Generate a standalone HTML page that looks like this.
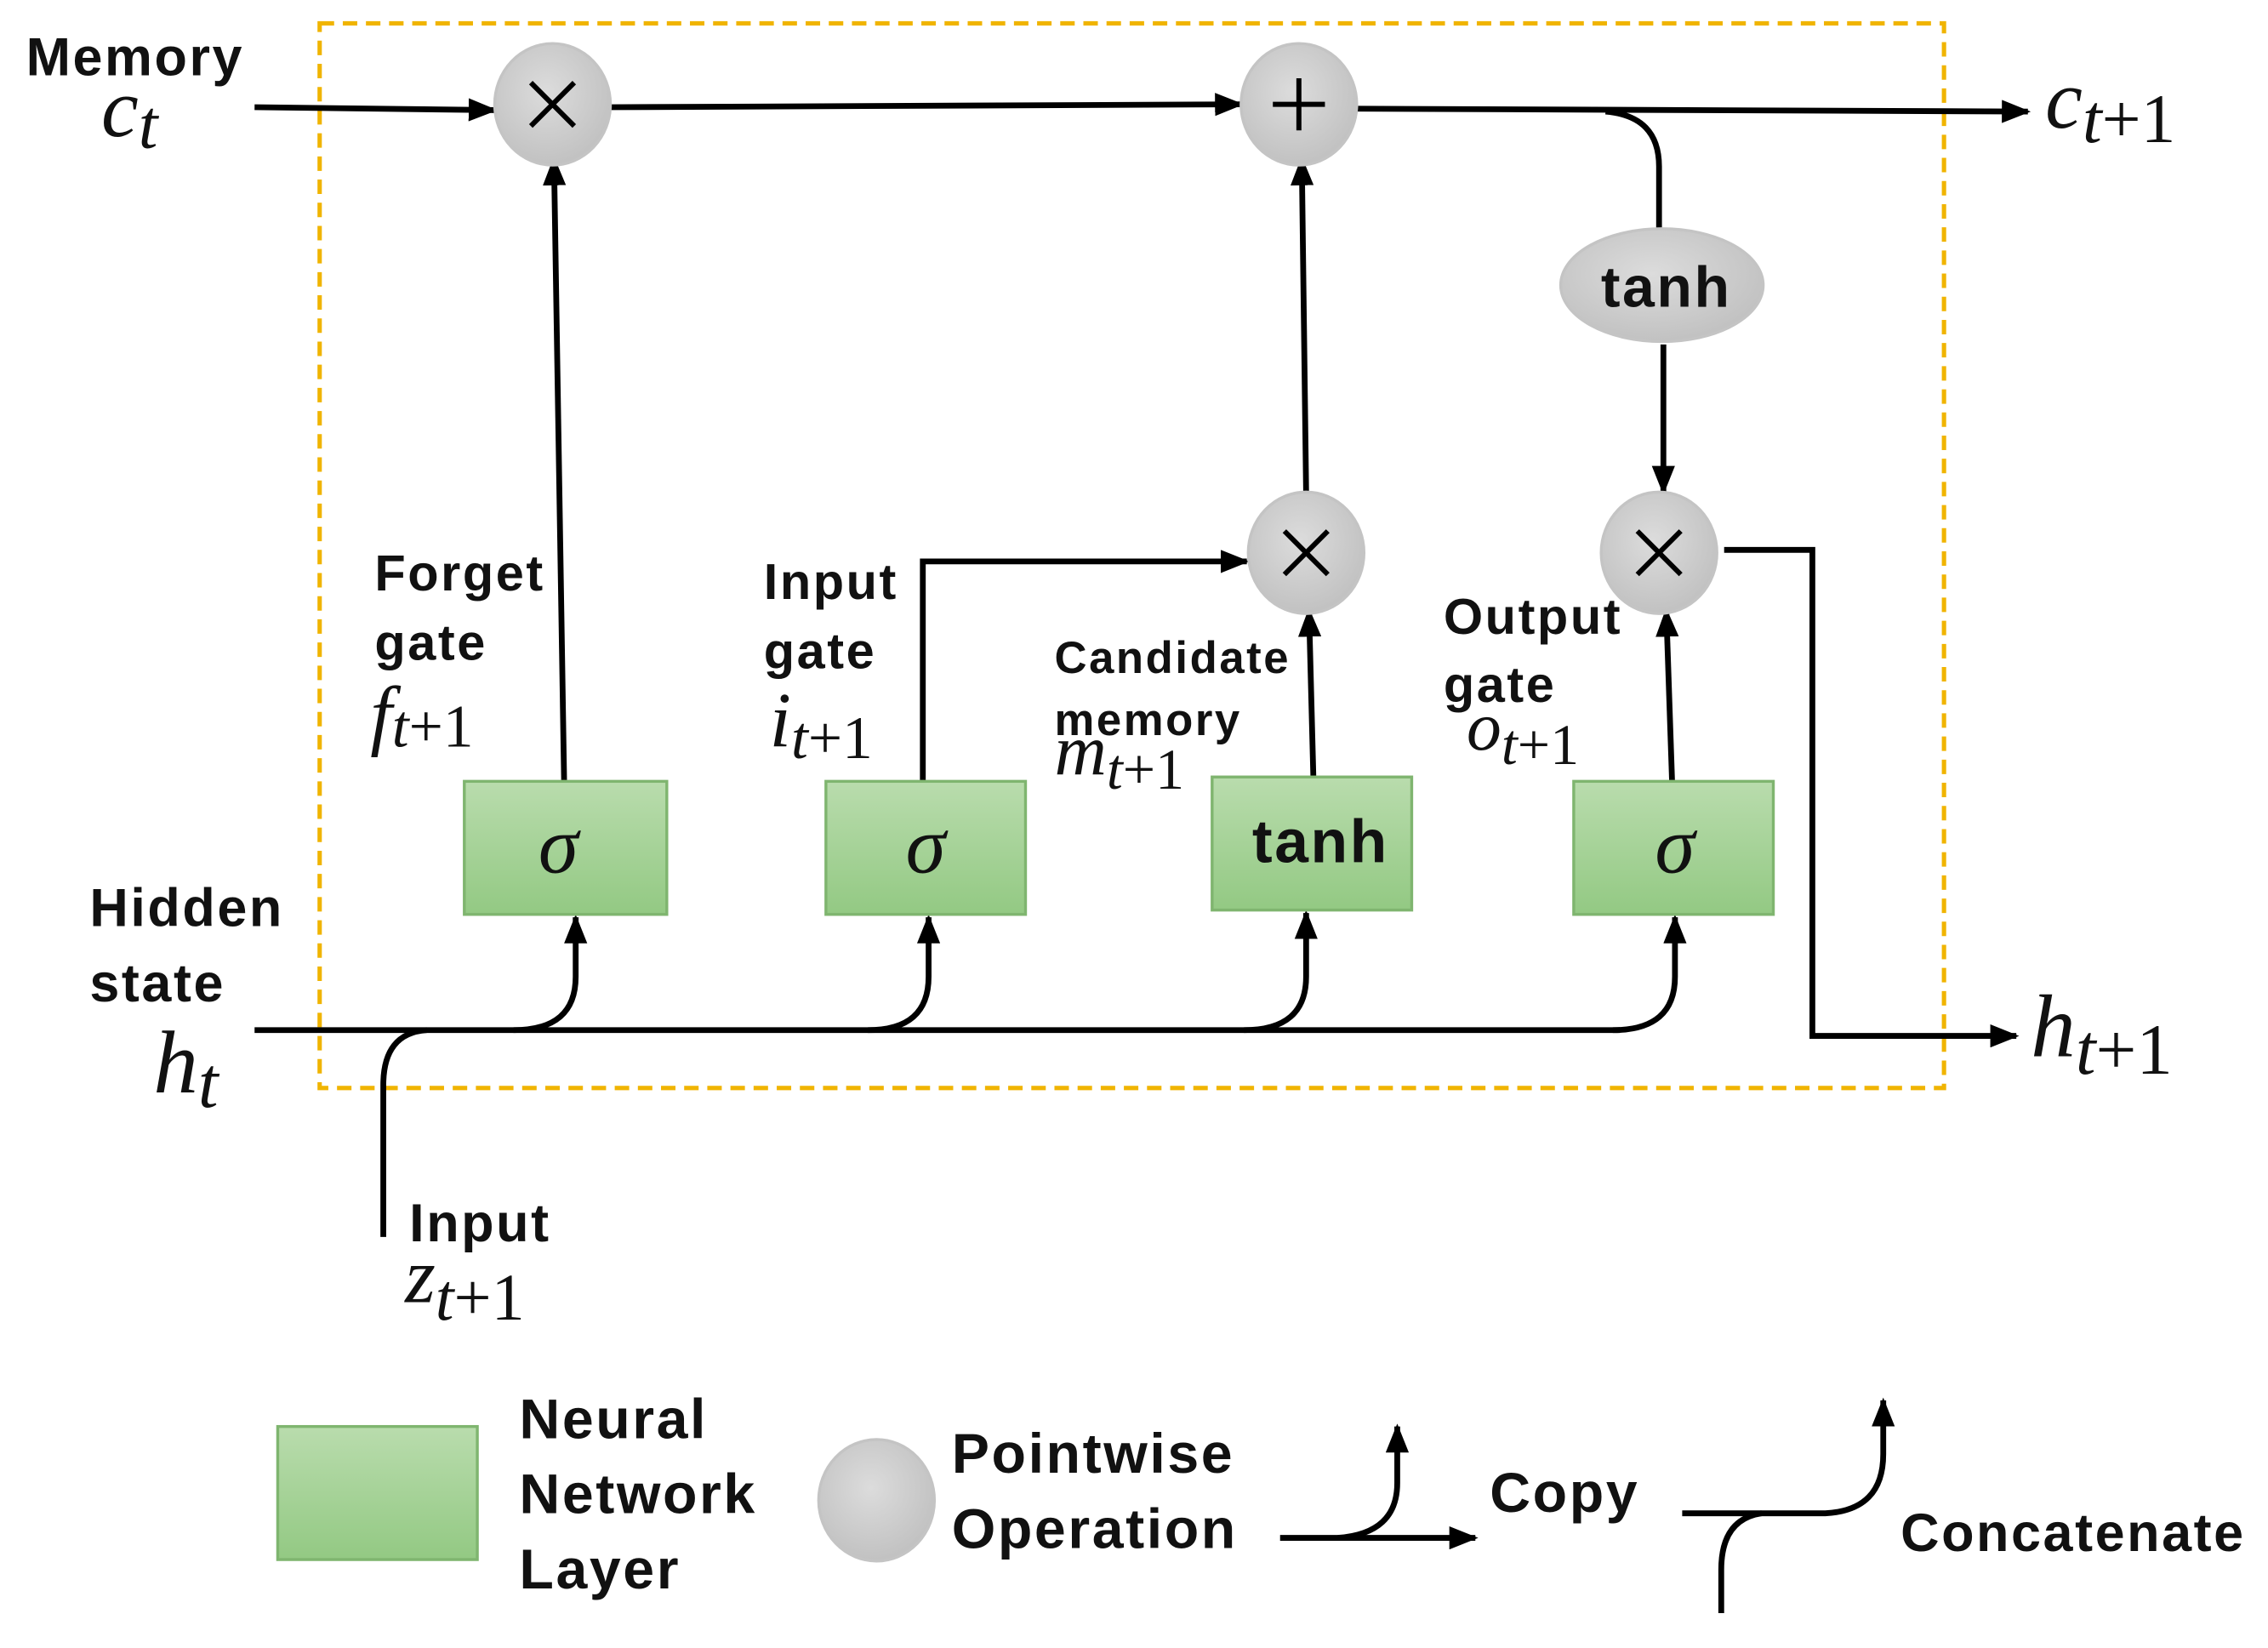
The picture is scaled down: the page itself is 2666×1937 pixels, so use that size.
<!DOCTYPE html>
<html><head><meta charset="utf-8"><style>
html,body{margin:0;padding:0;background:#fff;}
svg{display:block;}
.t{font-family:"Liberation Sans",sans-serif;font-weight:bold;fill:#111;letter-spacing:1.5px;}
.m{font-family:"Liberation Serif",serif;font-style:italic;fill:#111;}
.u{font-style:normal;}
</style></head><body>
<svg width="2666" height="1937" viewBox="0 0 1568 1139" xmlns="http://www.w3.org/2000/svg">
<defs>
<marker id="a" markerWidth="20" markerHeight="16" refX="18" refY="8" orient="auto" markerUnits="userSpaceOnUse" viewBox="0 0 20 16">
<path d="M0,0 L20,8 L0,16 z" fill="#000"/></marker>
<linearGradient id="g" x1="0" y1="0" x2="0" y2="1"><stop offset="0" stop-color="#b9dcad"/><stop offset="1" stop-color="#93c983"/></linearGradient>
<radialGradient id="c" cx="0.45" cy="0.4" r="0.7"><stop offset="0" stop-color="#dcdcdc"/><stop offset="1" stop-color="#bdbdbd"/></radialGradient>
</defs>
<style>.l{stroke:#000;stroke-width:4;fill:none}</style>
<rect x="221" y="16" width="1123" height="736" fill="none" stroke="#f0b400" stroke-width="3" stroke-dasharray="10,6"/>

<path class="l" d="M176,74 L342,76" marker-end="url(#a)"/>
<path class="l" d="M422,74 L858,72" marker-end="url(#a)"/>
<path class="l" d="M938,75 L1402,77" marker-end="url(#a)"/>
<path class="l" d="M1110,77 Q1147,80 1147,115 L1147,162"/>
<path class="l" d="M1150,238 L1150,340" marker-end="url(#a)"/>

<path class="l" d="M390,540 L383,110" marker-end="url(#a)"/>
<path class="l" d="M638,540 L638,388 L862,388" marker-end="url(#a)"/>
<path class="l" d="M908,537 L905,422" marker-end="url(#a)"/>
<path class="l" d="M903,340 L900,110" marker-end="url(#a)"/>
<path class="l" d="M1156,540 L1152,422" marker-end="url(#a)"/>
<path class="l" d="M1192,380 L1253,380 L1253,716 L1394,716" marker-end="url(#a)"/>

<path class="l" d="M176,712 L1120,712"/>
<path class="l" d="M355,712 Q398,712 398,675 L398,634" marker-end="url(#a)"/>
<path class="l" d="M600,712 Q642,712 642,675 L642,634" marker-end="url(#a)"/>
<path class="l" d="M860,712 Q903,712 903,675 L903,631" marker-end="url(#a)"/>
<path class="l" d="M1115,712 Q1158,712 1158,675 L1158,634" marker-end="url(#a)"/>
<path class="l" d="M265,855 L265,750 Q265,714 295,712"/>

<ellipse cx="382" cy="72" rx="40" ry="42" fill="url(#c)" stroke="#c4c4c4" stroke-width="2"/>
<ellipse cx="898" cy="72" rx="40" ry="42" fill="url(#c)" stroke="#c4c4c4" stroke-width="2"/>
<ellipse cx="903" cy="382" rx="40" ry="42" fill="url(#c)" stroke="#c4c4c4" stroke-width="2"/>
<ellipse cx="1147" cy="382" rx="40" ry="42" fill="url(#c)" stroke="#c4c4c4" stroke-width="2"/>
<ellipse cx="1149" cy="197" rx="70" ry="39" fill="url(#c)" stroke="#c4c4c4" stroke-width="2"/>
<g stroke="#000" stroke-width="3.5">
<path d="M367,57 L397,87 M397,57 L367,87"/>
<path d="M898,54 L898,90 M880,72 L916,72"/>
<path d="M888,367 L918,397 M918,367 L888,397"/>
<path d="M1132,367 L1162,397 M1162,367 L1132,397"/>
</g>
<text class="t" x="1152" y="212" font-size="40" text-anchor="middle">tanh</text>

<rect x="321" y="540" width="140" height="92" fill="url(#g)" stroke="#7fb56f" stroke-width="2"/>
<rect x="571" y="540" width="138" height="92" fill="url(#g)" stroke="#7fb56f" stroke-width="2"/>
<rect x="838" y="537" width="138" height="92" fill="url(#g)" stroke="#7fb56f" stroke-width="2"/>
<rect x="1088" y="540" width="138" height="92" fill="url(#g)" stroke="#7fb56f" stroke-width="2"/>
<text class="m" x="386" y="603" font-size="56" text-anchor="middle">σ</text>
<text class="m" x="640" y="603" font-size="56" text-anchor="middle">σ</text>
<text class="m" x="1158" y="603" font-size="56" text-anchor="middle">σ</text>
<text class="t" x="913" y="596" font-size="42" text-anchor="middle">tanh</text>

<text class="t" x="18" y="52" font-size="37">Memory</text>
<text class="m" x="70" y="94" font-size="58">c<tspan font-size="48" dy="8">t</tspan></text>
<text class="m" x="1414" y="88" font-size="58">c<tspan font-size="48" dy="10">t</tspan><tspan class="u" font-size="48">+1</tspan></text>
<text class="t" x="62" y="640" font-size="37">Hidden</text>
<text class="t" x="62" y="692" font-size="37">state</text>
<text class="m" x="106" y="755" font-size="62">h<tspan font-size="50" dy="10">t</tspan></text>
<text class="m" x="1404" y="730" font-size="62">h<tspan font-size="50" dy="12">t</tspan><tspan class="u" font-size="50">+1</tspan></text>
<text class="t" x="283" y="858" font-size="37">Input</text>
<text class="m" x="280" y="900" font-size="54">z<tspan font-size="46" dy="12">t</tspan><tspan class="u" font-size="46">+1</tspan></text>
<text class="t" x="259" y="408" font-size="35">Forget</text>
<text class="t" x="259" y="456" font-size="35">gate</text>
<text class="m" x="256" y="512" font-size="54">f<tspan font-size="42" dy="4">t</tspan><tspan class="u" font-size="42">+1</tspan></text>
<text class="t" x="528" y="414" font-size="35">Input</text>
<text class="t" x="528" y="462" font-size="35">gate</text>
<text class="m" x="532" y="516" font-size="54">i<tspan font-size="42" dy="8">t</tspan><tspan class="u" font-size="42">+1</tspan></text>
<text class="t" x="729" y="465" font-size="31">Candidate</text>
<text class="t" x="729" y="508" font-size="31">memory</text>
<text class="m" x="729" y="535" font-size="50">m<tspan font-size="40" dy="10">t</tspan><tspan class="u" font-size="40">+1</tspan></text>
<text class="t" x="998" y="438" font-size="35">Output</text>
<text class="t" x="998" y="485" font-size="35">gate</text>
<text class="m" x="1014" y="518" font-size="48">o<tspan font-size="40" dy="10">t</tspan><tspan class="u" font-size="40">+1</tspan></text>

<rect x="192" y="986" width="138" height="92" fill="url(#g)" stroke="#7fb56f" stroke-width="2"/>
<text class="t" x="359" y="994" font-size="39">Neural</text>
<text class="t" x="359" y="1046" font-size="39">Network</text>
<text class="t" x="359" y="1098" font-size="39">Layer</text>
<ellipse cx="606" cy="1037" rx="40" ry="42" fill="url(#c)" stroke="#c4c4c4" stroke-width="2"/>
<text class="t" x="658" y="1018" font-size="39">Pointwise</text>
<text class="t" x="658" y="1070" font-size="39">Operation</text>
<path class="l" d="M885,1063 L1020,1063" marker-end="url(#a)"/>
<path class="l" d="M925,1063 Q966,1060 966,1025 L966,986" marker-end="url(#a)"/>
<text class="t" x="1030" y="1045" font-size="39">Copy</text>
<path class="l" d="M1163,1046 L1262,1046 Q1302,1044 1302,1005 L1302,968" marker-end="url(#a)"/>
<path class="l" d="M1218,1046 Q1190,1050 1190,1085 L1190,1115"/>
<text class="t" x="1314" y="1072" font-size="37">Concatenate</text>
</svg>
</body></html>
